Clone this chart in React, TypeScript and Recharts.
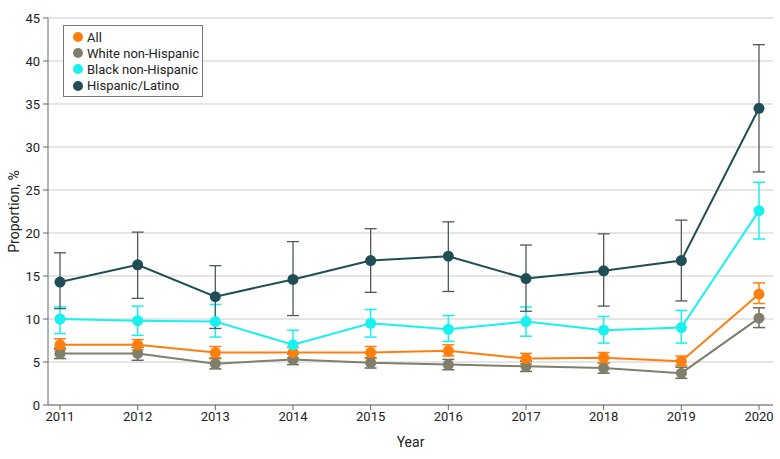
import React from 'react';
import { LineChart, Line, XAxis, YAxis, CartesianGrid, ErrorBar } from 'recharts';

const years = [2011, 2012, 2013, 2014, 2015, 2016, 2017, 2018, 2019, 2020];
const yTicks = [0, 5, 10, 15, 20, 25, 30, 35, 40, 45];

const allVal = [7.0, 7.0, 6.1, 6.1, 6.1, 6.3, 5.4, 5.5, 5.1, 12.9];
const allLow = [6.4, 6.4, 5.5, 5.5, 5.4, 5.7, 4.8, 4.9, 4.6, 11.8];
const allHigh = [7.7, 7.6, 6.8, 6.7, 6.8, 7.0, 6.0, 6.1, 5.7, 14.2];

const whiteVal = [6.0, 6.0, 4.8, 5.3, 4.9, 4.7, 4.5, 4.3, 3.7, 10.1];
const whiteLow = [5.4, 5.2, 4.2, 4.7, 4.3, 4.1, 3.9, 3.7, 3.1, 9.0];
const whiteHigh = [6.6, 6.7, 5.4, 5.9, 5.5, 5.3, 5.1, 4.9, 4.4, 11.3];

const blackVal = [10.0, 9.8, 9.7, 7.0, 9.5, 8.8, 9.7, 8.7, 9.0, 22.6];
const blackLow = [8.3, 8.1, 7.9, 6.0, 7.9, 7.4, 8.0, 7.2, 7.2, 19.3];
const blackHigh = [11.4, 11.5, 11.7, 8.7, 11.1, 10.4, 11.4, 10.3, 11.0, 25.9];

const hispVal = [14.3, 16.3, 12.6, 14.6, 16.8, 17.3, 14.7, 15.6, 16.8, 34.5];
const hispLow = [11.2, 12.4, 8.9, 10.4, 13.1, 13.2, 10.9, 11.5, 12.1, 27.1];
const hispHigh = [17.7, 20.1, 16.2, 19.0, 20.5, 21.3, 18.6, 19.9, 21.5, 41.9];

const C_ALL = '#ff7f0e';
const C_WHITE = '#807f6c';
const C_BLACK = '#19f0f0';
const C_HISP = '#1f4e56';

const data = years.map((year, i) => ({
  year,
  all: allVal[i],
  allErr: [allVal[i] - allLow[i], allHigh[i] - allVal[i]],
  white: whiteVal[i],
  whiteErr: [whiteVal[i] - whiteLow[i], whiteHigh[i] - whiteVal[i]],
  black: blackVal[i],
  blackErr: [blackVal[i] - blackLow[i], blackHigh[i] - blackVal[i]],
  hisp: hispVal[i],
  hispErr: [hispVal[i] - hispLow[i], hispHigh[i] - hispVal[i]],
}));

const legendItems = [
  { label: 'All', color: C_ALL },
  { label: 'White non-Hispanic', color: C_WHITE },
  { label: 'Black non-Hispanic', color: C_BLACK },
  { label: 'Hispanic/Latino', color: C_HISP },
];

const FONT = 'Roboto, "Open Sans", sans-serif';

export default function App() {
  const tickStyle = { fill: '#222', fontSize: 13, fontFamily: FONT };
  const dot = (c: string) => ({ r: 5.5, fill: c, stroke: c, strokeWidth: 0 });
  return (
    <div style={{ position: 'absolute', left: 0, top: 0, width: 780, height: 459, background: '#fff' }}>
      <LineChart width={780} height={459} data={data} margin={{ top: 18, right: 7, bottom: 20, left: 0 }}>
        <CartesianGrid vertical={false} stroke="#dcdcdc" strokeWidth={1.5} />
        <XAxis
          dataKey="year"
          type="number"
          domain={[2011, 2020]}
          ticks={years}
          padding={{ left: 12, right: 14 }}
          stroke="#666"
          tickSize={5}
          tick={tickStyle}
          tickMargin={2}
          height={34}
          label={{ value: 'Year', position: 'insideBottom', offset: -8, style: { fill: '#222', fontSize: 14, fontFamily: FONT } }}
        />
        <YAxis
          domain={[0, 45]}
          ticks={yTicks}
          stroke="#666"
          tickSize={5}
          tick={tickStyle}
          tickMargin={3}
          width={48}
          interval={0}
          label={{ value: 'Proportion, %', angle: -90, position: 'insideLeft', offset: 14, style: { fill: '#222', fontSize: 14, fontFamily: FONT, textAnchor: 'middle' } }}
        />
        <Line dataKey="white" stroke={C_WHITE} strokeWidth={2} dot={dot(C_WHITE)} activeDot={false} isAnimationActive={false}>
          <ErrorBar dataKey="whiteErr" direction="y" width={6} stroke="#6b6a5a" strokeWidth={1.5} />
        </Line>
        <Line dataKey="all" stroke={C_ALL} strokeWidth={2} dot={dot(C_ALL)} activeDot={false} isAnimationActive={false}>
          <ErrorBar dataKey="allErr" direction="y" width={6} stroke={C_ALL} strokeWidth={1.5} />
        </Line>
        <Line dataKey="black" stroke={C_BLACK} strokeWidth={2} dot={dot(C_BLACK)} activeDot={false} isAnimationActive={false}>
          <ErrorBar dataKey="blackErr" direction="y" width={6} stroke={C_BLACK} strokeWidth={1.5} />
        </Line>
        <Line dataKey="hisp" stroke={C_HISP} strokeWidth={2} dot={dot(C_HISP)} activeDot={false} isAnimationActive={false}>
          <ErrorBar dataKey="hispErr" direction="y" width={6} stroke="#4d5a5c" strokeWidth={1.3} />
        </Line>
      </LineChart>
      <div
        style={{
          position: 'absolute',
          left: 63,
          top: 25,
          width: 140,
          height: 72,
          border: '1px solid #777',
          background: '#fff',
          boxSizing: 'border-box',
          padding: '3px 0 0 9px',
          fontFamily: FONT,
          fontSize: 13,
          color: '#222',
        }}
      >
        {legendItems.map((it) => (
          <div key={it.label} style={{ display: 'flex', alignItems: 'center', height: 16.2 }}>
            <span style={{ display: 'inline-block', width: 10, height: 10, borderRadius: 5, background: it.color, marginRight: 4 }} />
            <span>{it.label}</span>
          </div>
        ))}
      </div>
    </div>
  );
}
